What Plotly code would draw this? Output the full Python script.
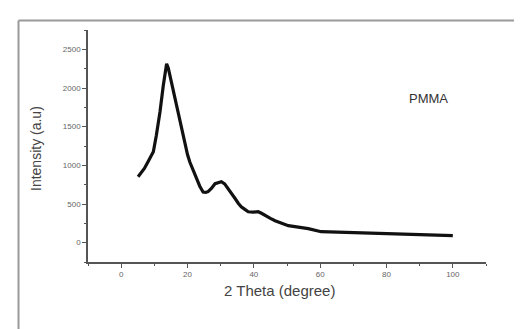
import plotly.graph_objects as go

# Data (2 theta in degrees, intensity in a.u.)
two_theta = [5.1, 6.0, 7.0, 8.1, 9.0, 9.7, 10.6, 11.7, 12.7, 13.2, 13.7, 14.2, 14.7, 15.5, 16.2, 17.0,
             17.7, 18.5, 19.2, 20.0, 20.7, 21.7, 22.7, 23.7, 24.7, 25.5, 26.2, 27.2, 28.3, 29.3,
             30.2, 31.2, 32.3, 33.3, 34.4, 35.3, 36.2, 37.3, 38.3, 39.8, 41.3, 42.3, 43.4, 45.0,
             46.4, 48.4, 50.4, 53.4, 56.4, 60.3, 65.5, 70.6, 75.5, 80.5, 85.5, 90.5, 95.3, 100.0]
intensity = [853, 900, 960, 1047, 1120, 1176, 1386, 1689, 2033, 2200, 2313, 2260, 2162, 2010, 1860, 1710,
             1560, 1410, 1257, 1140, 1043, 930, 827, 730, 655, 650, 659, 700, 762, 780,
             788, 760, 698, 630, 568, 510, 465, 430, 400, 395, 400, 380, 349, 315,
             284, 250, 220, 200, 181, 142, 135, 129, 122, 116, 110, 103, 97, 90]

x_ticks = [0, 20, 40, 60, 80, 100]
y_ticks = [0, 500, 1000, 1500, 2000, 2500]

W, H = 522, 329
L, R, T, B = 80, 478, 22, 254

def px(xp):
    return (xp - L) / (R - L)

def py(yp):
    return (B - yp) / (B - T)

fig = go.Figure()
fig.add_trace(go.Scatter(x=two_theta, y=intensity, mode="lines",
                         line=dict(color="#111111", width=3.2), showlegend=False))

axis_common = dict(showgrid=False, zeroline=False, showline=True, linecolor="#555555", linewidth=1.5,
                   ticks="outside", ticklen=4, tickwidth=1.2, tickcolor="#555555",
                   tickfont=dict(family="Liberation Sans, Arial", size=8, color="#666666"))

fig.update_xaxes(range=[-10, 110], tickvals=x_ticks, ticktext=[str(v) for v in x_ticks],
                 minor=dict(dtick=10, ticks="outside", ticklen=2, tickcolor="#555555"),
                 **axis_common)
fig.update_yaxes(range=[-250, 2750], tickvals=y_ticks, ticktext=[str(v) for v in y_ticks],
                 minor=dict(dtick=250, ticks="outside", ticklen=2, tickcolor="#555555"),
                 **axis_common)

fig.update_layout(
    width=W, height=H,
    margin=dict(l=L, r=W - R, t=T, b=H - B, pad=0),
    paper_bgcolor="white", plot_bgcolor="white",
    font=dict(family="Liberation Sans, Arial", color="#444444"),
    shapes=[
        dict(type="line", xref="paper", yref="paper", x0=px(10.5), x1=px(W + 5), y0=py(12.5), y1=py(12.5),
             line=dict(color="#9a9a9a", width=2)),
        dict(type="line", xref="paper", yref="paper", x0=px(10.5), x1=px(10.5), y0=py(12.5), y1=py(H + 5),
             line=dict(color="#9a9a9a", width=2)),
    ],
    annotations=[
        dict(text="PMMA", xref="paper", yref="paper", x=px(420), y=py(90), showarrow=False,
             font=dict(size=13, color="#333333"), xanchor="center", yanchor="middle"),
        dict(text="2 Theta (degree)", xref="paper", yref="paper", x=px(271), y=py(282), showarrow=False,
             font=dict(size=15, color="#444444"), xanchor="center", yanchor="middle"),
        dict(text="Intensity (a.u)", xref="paper", yref="paper", x=px(28), y=py(140), showarrow=False,
             textangle=-90, font=dict(size=14, color="#444444"), xanchor="center", yanchor="middle"),
    ],
)

fig.write_html("out.html")
